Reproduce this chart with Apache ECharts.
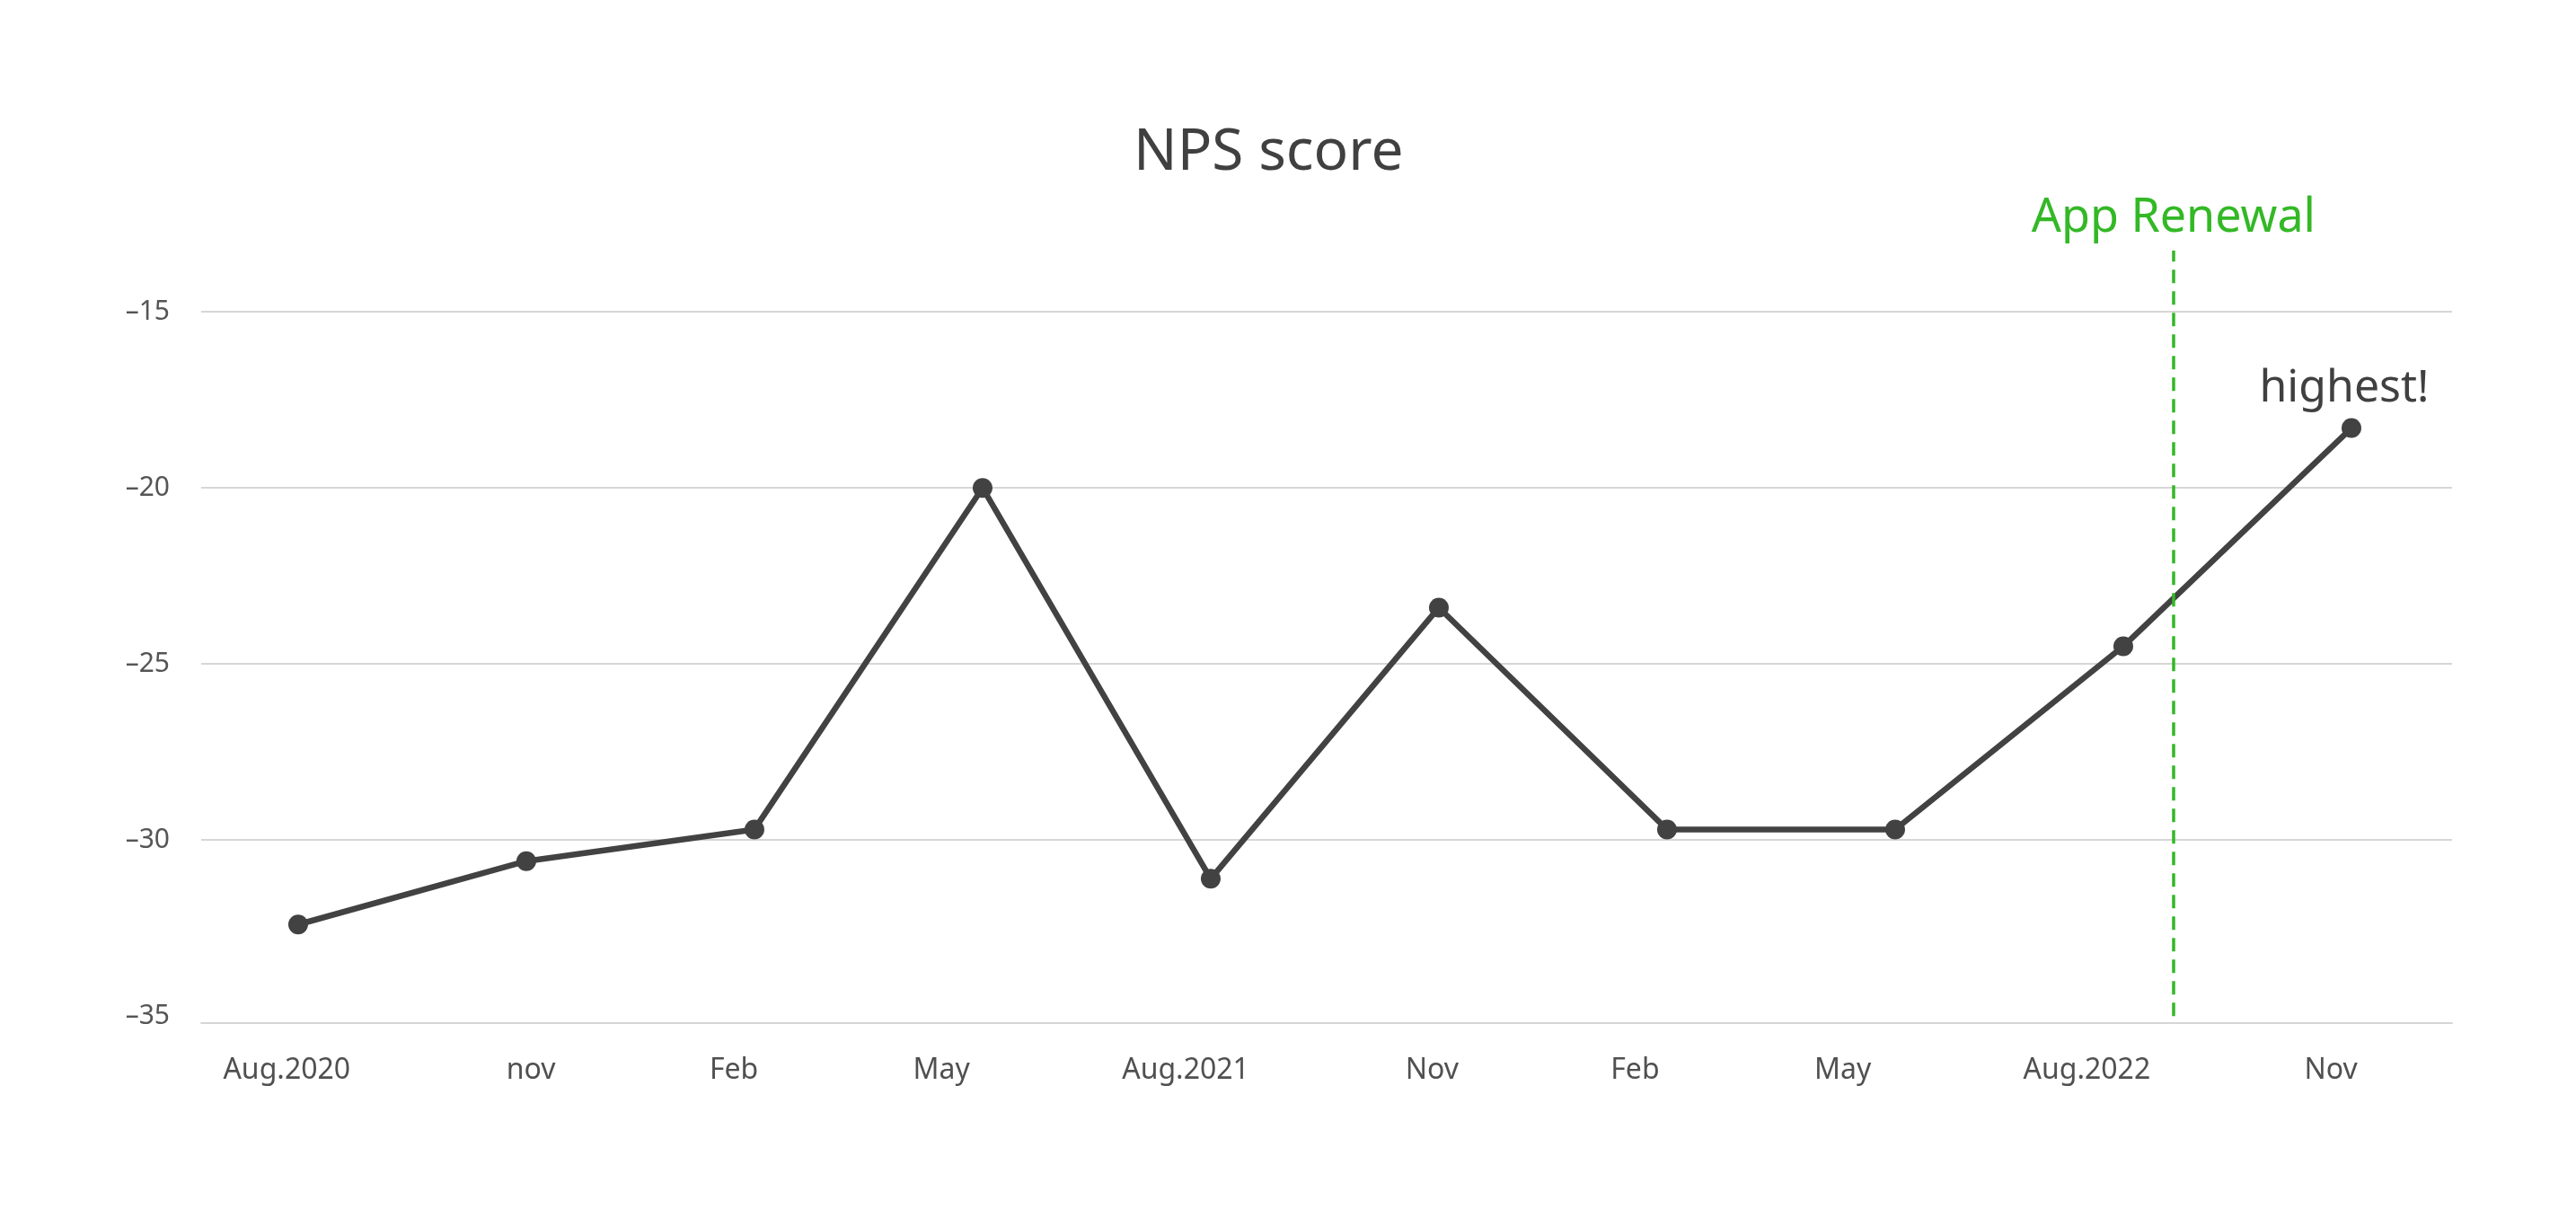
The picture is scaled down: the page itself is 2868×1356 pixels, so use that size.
<!DOCTYPE html>
<html>
<head>
<meta charset="utf-8">
<script src="https://cdn.jsdelivr.net/npm/echarts@6/dist/echarts.min.js"></script>
<style>
html,body{margin:0;padding:0;background:#fff;}
#chart{width:2868px;height:1356px;}
</style>
</head>
<body>
<div id="chart"></div>
<script>
// ---- data ----
const categories = ['Aug.2020','nov','Feb','May','Aug.2021','Nov','Feb','May','Aug.2022','Nov'];
const npsValues = [-32.4, -30.6, -29.7, -20.0, -31.1, -23.4, -29.7, -29.7, -24.5, -18.3];
// x-axis tick label positions (in category index units)
const xTickValues = [-0.05, 1.02, 1.91, 2.82, 3.89, 4.97, 5.86, 6.77, 7.84, 8.91];
const yTickLabels = [-35, -30, -25, -20, -15];
const yGridValues = [-30, -25, -20, -15];
const renewalAt = 8.22;     // App Renewal event position (index units)
const renewalSpan = [-35, -13.26];
const highestIndex = 9;

const seriesData = npsValues.map((v, i) => {
  const item = { value: [i, v] };
  if (i === highestIndex) {
    item.label = { show: true, formatter: 'highest!' };
  }
  return item;
});

const chart = echarts.init(document.getElementById('chart'));
chart.setOption({
  animation: false,
  backgroundColor: '#ffffff',
  textStyle: { fontFamily: 'Noto Sans' },
  title: {
    text: 'NPS score',
    left: 1257,
    top: 134,
    textStyle: { fontFamily: 'Noto Sans', fontSize: 64, fontWeight: 'normal', color: '#404040' }
  },
  grid: { left: 224, right: 138, top: 279, bottom: 217, containLabel: false },
  xAxis: {
    type: 'value',
    min: -0.425,
    max: 9.441,
    axisLine: { show: true, lineStyle: { color: '#d6d6d6', width: 2 } },
    axisTick: { show: false },
    splitLine: { show: false },
    axisLabel: {
      customValues: xTickValues,
      formatter: (val, idx) => {
        const k = xTickValues.indexOf(val);
        return categories[k >= 0 ? k : idx];
      },
      fontFamily: 'Noto Sans',
      fontSize: 32,
      color: '#505050',
      margin: 37
    }
  },
  yAxis: {
    type: 'value',
    min: -35.2,
    max: -13.26,
    axisLine: { show: false },
    axisTick: { show: false, customValues: yGridValues },
    splitLine: { show: true, lineStyle: { color: '#d6d6d6', width: 2 } },
    axisLabel: {
      customValues: yTickLabels,
      formatter: (v) => String(v).replace('-', '\u2013'),
      fontFamily: 'Noto Sans',
      fontSize: 30,
      color: '#555555',
      margin: 35
    }
  },
  series: [{
    type: 'line',
    data: seriesData,
    symbol: 'circle',
    symbolSize: 22,
    lineStyle: { color: '#424242', width: 6.5 },
    itemStyle: { color: '#424242' },
    label: {
      show: false,
      position: 'top',
      distance: 8,
      offset: [-8, 0],
      fontFamily: 'Noto Sans',
      fontSize: 50,
      color: '#404040'
    },
    markLine: {
      silent: true,
      symbol: 'none',
      label: {
        show: true,
        position: 'end',
        formatter: 'App Renewal',
        distance: 10,
        fontFamily: 'Noto Sans',
        fontSize: 52,
        color: '#33b826'
      },
      lineStyle: { color: '#33b826', width: 3.5, type: [15, 9] },
      data: [[
        { coord: [renewalAt, renewalSpan[0]] },
        { coord: [renewalAt, renewalSpan[1]] }
      ]]
    }
  }]
});
</script>
</body>
</html>
